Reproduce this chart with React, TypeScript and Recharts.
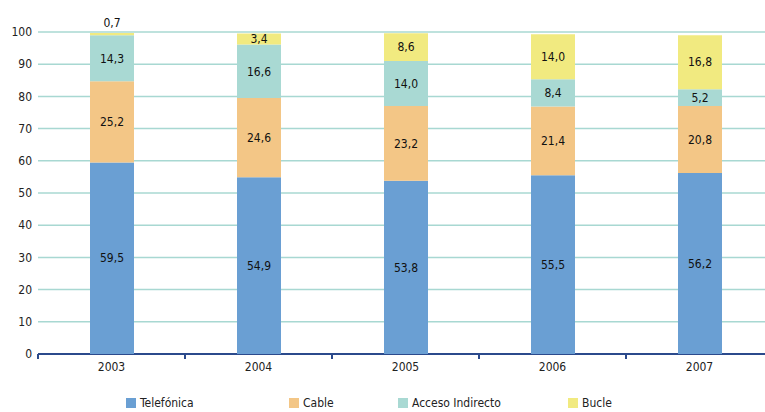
import React from 'react';
import { BarChart, Bar, XAxis, YAxis, CartesianGrid, LabelList, usePlotArea } from 'recharts';

const years = ['2003', '2004', '2005', '2006', '2007'];
const telefonica = [59.5, 54.9, 53.8, 55.5, 56.2];
const cable = [25.2, 24.6, 23.2, 21.4, 20.8];
const accesoIndirecto = [14.3, 16.6, 14.0, 8.4, 5.2];
const bucle = [0.7, 3.4, 8.6, 14.0, 16.8];
const yTicks = [0, 10, 20, 30, 40, 50, 60, 70, 80, 90, 100];

const seriesNames = ['Telefónica', 'Cable', 'Acceso Indirecto', 'Bucle'];
const colors = ['#6a9fd3', '#f3c686', '#a9d9d3', '#f1ea80'];

const data = years.map((y, i) => ({
  year: y,
  t: telefonica[i],
  c: cable[i],
  a: accesoIndirecto[i],
  b: bucle[i],
}));

const FONT = '"DejaVu Sans Condensed", "DejaVu Sans", sans-serif';
const textStyle: any = { fontFamily: FONT, fontSize: 12, fontStretch: 'condensed', fill: '#111' };
const fmt = (v: any) => Number(v).toFixed(1).replace('.', ',');

const BucleLabel = (props: any) => {
  const { x, y, width, height, value } = props;
  const small = Number(value) < 1;
  const cx = x + width / 2;
  const cy = small ? y - 10 : y + height / 2;
  return (
    <text x={cx} y={cy} textAnchor="middle" dominantBaseline="central" style={textStyle}>
      {fmt(value)}
    </text>
  );
};

const BoundaryTicks = () => {
  const area = usePlotArea();
  if (!area) return null;
  const n = years.length;
  const step = area.width / n;
  const yb = area.y + area.height;
  const xs = Array.from({ length: n + 1 }, (_, i) => area.x + i * step);
  return (
    <g>
      <line x1={area.x} x2={area.x + area.width} y1={yb} y2={yb} stroke="#2b4a8c" strokeWidth={2} />
      {xs.map((x, i) => (
        <line key={i} x1={x} x2={x} y1={yb} y2={yb + 5} stroke="#2b4a8c" strokeWidth={2} />
      ))}
    </g>
  );
};

const legendLeft = [126, 289, 398, 568];

export default function App() {
  return (
    <div style={{ position: 'absolute', left: 0, top: 0, width: 765, height: 412, overflow: 'hidden', background: '#fff' }}>
      <BarChart
        width={780}
        height={412}
        data={data}
        margin={{ top: 32, right: 7, bottom: 28, left: 0 }}
        barSize={44}
      >
        <CartesianGrid vertical={false} stroke="#a8d8d2" strokeWidth={1.5} />
        <XAxis
          dataKey="year"
          height={30}
          axisLine={false}
          tickLine={false}
          tickSize={0}
          tickMargin={8}
          tick={{ ...textStyle, fill: '#222' }}
        />
        <YAxis
          width={38}
          domain={[0, 100]}
          ticks={yTicks}
          axisLine={false}
          tickLine={false}
          tickSize={0}
          tickMargin={6}
          interval={0}
          tick={{ ...textStyle, fill: '#222' }}
        />
        <Bar dataKey="t" stackId="s" fill={colors[0]} isAnimationActive={false}>
          <LabelList dataKey="t" position="center" formatter={fmt} style={textStyle} />
        </Bar>
        <Bar dataKey="c" stackId="s" fill={colors[1]} isAnimationActive={false}>
          <LabelList dataKey="c" position="center" formatter={fmt} style={textStyle} />
        </Bar>
        <Bar dataKey="a" stackId="s" fill={colors[2]} isAnimationActive={false}>
          <LabelList dataKey="a" position="center" formatter={fmt} style={textStyle} />
        </Bar>
        <Bar dataKey="b" stackId="s" fill={colors[3]} isAnimationActive={false}>
          <LabelList dataKey="b" content={BucleLabel} />
        </Bar>
        <BoundaryTicks />
      </BarChart>
      {seriesNames.map((name, i) => (
        <div
          key={name}
          style={{
            position: 'absolute',
            left: legendLeft[i],
            top: 396,
            display: 'flex',
            alignItems: 'center',
            fontFamily: FONT,
            fontStretch: 'condensed',
            fontSize: 12,
            color: '#222',
            whiteSpace: 'nowrap',
          }}
        >
          <span style={{ display: 'inline-block', width: 10, height: 10, background: colors[i], marginRight: 4 }} />
          {name}
        </div>
      ))}
    </div>
  );
}
